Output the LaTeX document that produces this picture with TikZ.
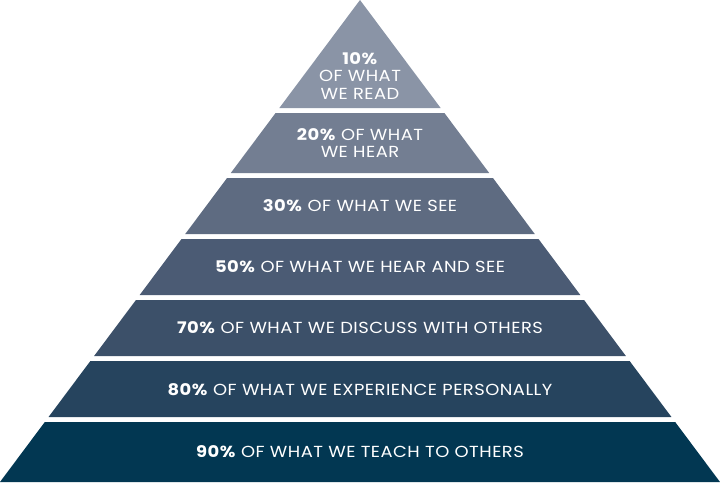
\documentclass[tikz,border=0pt]{standalone}
\usepackage{fontspec}
\setmainfont{Poppins}
\newfontfamily\lblfont[LetterSpace=3,FakeStretch=1.12]{Poppins}
\definecolor{lay1}{HTML}{8A94A6}
\definecolor{lay2}{HTML}{737E92}
\definecolor{lay3}{HTML}{5E6B81}
\definecolor{lay4}{HTML}{4B5B74}
\definecolor{lay5}{HTML}{3C5069}
\definecolor{lay6}{HTML}{26445E}
\definecolor{lay7}{HTML}{023752}
\newcommand{\trap}[3]{%
  \fill[#1] ({360-0.74689*#2},#2) -- ({360+0.74689*#2},#2) -- ({360+0.74689*#3},#3) -- ({360-0.74689*#3},#3) -- cycle;}
\begin{document}
\begin{tikzpicture}[x=1pt,y=-1pt,
  lbl/.style={text=white,font=\lblfont\fontsize{16}{17.5}\selectfont,align=center,inner sep=0pt}]
\useasboundingbox (0,0) rectangle (720,482);
\fill[lay1] (360,0) -- ({360+0.74689*108},108) -- ({360-0.74689*108},108) -- cycle;
\trap{lay2}{113}{173}
\trap{lay3}{178}{234}
\trap{lay4}{239}{295}
\trap{lay5}{300}{356}
\trap{lay6}{361}{417}
\trap{lay7}{422}{482}
\node[lbl] (t1) at (360,76) {\textbf{10\%}\\OF WHAT\\WE READ};
\node[lbl] (t2) at (360,143) {\textbf{20\%} OF WHAT\\WE HEAR};
\node[lbl] (t3) at (360,206) {\textbf{30\%} OF WHAT WE SEE};
\node[lbl] (t4) at (360,267) {\textbf{50\%} OF WHAT WE HEAR AND SEE};
\node[lbl] (t5) at (360,328) {\textbf{70\%} OF WHAT WE DISCUSS WITH OTHERS};
\node[lbl] (t6) at (360,390) {\textbf{80\%} OF WHAT WE EXPERIENCE PERSONALLY};
\node[lbl] (t7) at (360,452) {\textbf{90\%} OF WHAT WE TEACH TO OTHERS};
\end{tikzpicture}
\end{document}
